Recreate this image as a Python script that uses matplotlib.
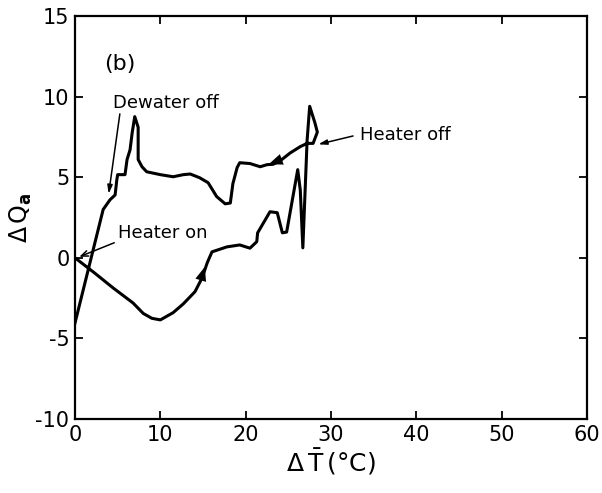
import matplotlib.pyplot as plt
import numpy as np

plt.rcParams['axes.unicode_minus'] = False

# loop traced from the heater-on point, along the lower branch, up the spike,
# then back left along the upper branch
dT = [0, 2.2, 4.45, 6.8, 8.0, 9.0, 10.0, 11.5, 12.7, 14.06, 14.9, 15.5, 16.05,
      17.8, 19.3, 20.5, 21.3, 21.4, 22.85, 23.7, 24.3, 24.8, 26.1, 26.4,
      26.7, 27.2, 27.5, 28.1, 28.4, 27.9, 27.2, 26.4, 25.2, 24.0, 23.2,
      22.5, 21.7, 20.5, 19.3, 19.0, 18.5, 18.2, 17.6, 16.6, 15.6, 14.6,
      13.5, 12.7, 11.5, 10.0, 8.4, 7.85, 7.4, 7.4, 7.0, 6.7, 6.45, 6.1,
      5.86, 5.0, 4.9, 4.7, 4.1, 3.3, 0]
dQ = [0, -0.9, -1.86, -2.8, -3.45, -3.75, -3.85, -3.4, -2.85, -2.1, -1.24,
      -0.3, 0.37, 0.68, 0.8, 0.6, 1.0, 1.55, 2.86, 2.8, 1.55, 1.6, 5.47, 4.2,
      0.62, 7.3, 9.4, 8.4, 7.8, 7.1, 7.1, 6.9, 6.5, 6.0, 5.8, 5.78, 5.65,
      5.85, 5.9, 5.6, 4.6, 3.4, 3.35, 3.8, 4.66, 4.97, 5.2, 5.16, 5.03,
      5.16, 5.34, 5.65, 6.1, 8.1, 8.76, 7.76, 6.7, 6.1, 5.16, 5.16, 4.84,
      3.9, 3.6, 3.0, -4.04]

xticks = [0, 10, 20, 30, 40, 50, 60]
yticks = [-10, -5, 0, 5, 10, 15]

fig = plt.figure(figsize=(6.02, 4.93), dpi=100)
ax = fig.add_axes([0.1246, 0.150, 0.8505, 0.8175])

ax.plot(dT, dQ, color='black', lw=2.2, solid_joinstyle='round')

# direction arrows on the loop
head = '-|>,head_length=1.0,head_width=0.4'
ax.annotate('', xy=(15.3, -0.4), xytext=(14.5, -1.8),
            arrowprops=dict(arrowstyle=head, color='black', lw=0))
ax.annotate('', xy=(22.4, 5.75), xytext=(24.2, 6.1),
            arrowprops=dict(arrowstyle=head, color='black', lw=0))

ax.set_xlim(0, 60)
ax.set_ylim(-10, 15)
ax.set_xticks(xticks)
ax.set_yticks(yticks)
ax.tick_params(direction='in', length=6, width=1.3, labelsize=15,
               top=True, right=True, pad=4)
for s in ax.spines.values():
    s.set_linewidth(1.6)

ax.set_xlabel(r'$\Delta\,\bar{\mathrm{T}}\,(\degree\mathrm{C})$', fontsize=18,
              labelpad=2)
ax.set_ylabel(r'$\Delta\,\mathrm{Q}_{\mathbf{a}}$', fontsize=17)
ax.yaxis.set_label_coords(-0.08, 0.5)

ax.text(5.2, 12.0, '(b)', fontsize=16, ha='center', va='center')
ax.text(4.45, 9.6, 'Dewater off', fontsize=13, ha='left', va='center')
ax.annotate('', xy=(3.9, 3.8), xytext=(5.3, 9.1),
            arrowprops=dict(arrowstyle='-|>,head_length=0.5,head_width=0.15',
                            color='black', lw=1.1))
ax.text(5.05, 1.55, 'Heater on', fontsize=13, ha='left', va='center')
ax.annotate('', xy=(0.2, 0.0), xytext=(4.9, 1.0),
            arrowprops=dict(arrowstyle='->,head_length=0.5,head_width=0.2',
                            color='black', lw=1.1))
ax.text(33.4, 7.6, 'Heater off', fontsize=13, ha='left', va='center')
ax.annotate('', xy=(28.2, 7.0), xytext=(32.9, 7.6),
            arrowprops=dict(arrowstyle='-|>,head_length=0.5,head_width=0.15',
                            color='black', lw=1.1))

fig.savefig('out.png', dpi=100)
